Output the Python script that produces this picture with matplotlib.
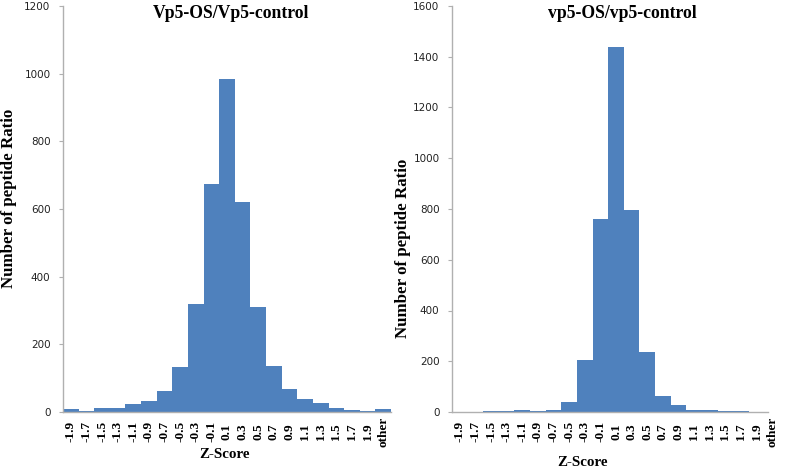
import matplotlib
matplotlib.use("Agg")
import matplotlib.pyplot as plt
import numpy as np

categories = ["-1.9", "-1.7", "-1.5", "-1.3", "-1.1", "-0.9", "-0.7", "-0.5", "-0.3", "-0.1",
              "0.1", "0.3", "0.5", "0.7", "0.9", "1.1", "1.3", "1.5", "1.7", "1.9", "other"]
left_values = [8, 4, 12, 13, 25, 33, 62, 133, 320, 673,
               985, 620, 310, 135, 68, 37, 28, 12, 7, 4, 10]
right_values = [0, 0, 2, 5, 7, 3, 9, 38, 203, 760,
                1440, 798, 238, 63, 26, 7, 8, 3, 2, 0, 0]
left_title = "Vp5-OS/Vp5-control"
right_title = "vp5-OS/vp5-control"
left_yticks = [0, 200, 400, 600, 800, 1000, 1200]
right_yticks = [0, 200, 400, 600, 800, 1000, 1200, 1400, 1600]

BAR = "#4F81BD"
AX = "#B0B0B0"
serif = ["Liberation Serif", "DejaVu Serif"]

fig = plt.figure(figsize=(7.87, 4.68), dpi=100)
W, H = 787, 468

def make_ax(x0, x1, y0, y1):
    return fig.add_axes([x0 / W, 1 - y1 / H, (x1 - x0) / W, (y1 - y0) / H])

ax1 = make_ax(63, 391, 6, 412)
ax2 = make_ax(452, 780, 6, 412)

def style(ax, values, yticks, title, xlim, spine_right, title_x, ylabel_xy, xlabel_xy):
    x = np.arange(len(categories))
    ax.bar(x, values, width=1.0, color=BAR, edgecolor="none")
    ax.set_xlim(*xlim)
    ax.set_ylim(0, yticks[-1])
    ax.set_yticks(yticks)
    ax.set_xticks(x)
    ax.set_xticklabels(categories, rotation=90, fontsize=9.5, family=serif, fontweight="bold")
    for lab in ax.get_xticklabels():
        lab.set_va("center")
    ax.tick_params(axis="x", length=0, pad=14)
    ax.tick_params(axis="y", length=3, color=AX, labelsize=7.5, pad=6, labelcolor="#222222")
    for s in ["top", "right"]:
        ax.spines[s].set_visible(False)
    for s in ["left", "bottom"]:
        ax.spines[s].set_color(AX)
        ax.spines[s].set_linewidth(1.0)
    ax.spines["bottom"].set_bounds(-0.5, spine_right)
    fig.text(title_x / W, 1 - 14 / H, title, ha="center", va="center",
             fontsize=12.7, fontweight="bold", family=serif)
    fig.text(ylabel_xy[0] / W, 1 - ylabel_xy[1] / H, "Number of peptide Ratio", rotation=90,
             ha="center", va="center", fontsize=12.2, fontweight="bold", family=serif)
    fig.text(xlabel_xy[0] / W, 1 - xlabel_xy[1] / H, "Z-Score", ha="center", va="center",
             fontsize=10.8, fontweight="bold", family=serif)

style(ax1, left_values, left_yticks, left_title, (-0.5, 20.5), 20.5, 231, (9, 198), (224, 455))
style(ax2, right_values, right_yticks, right_title, (-0.5, 20.5), 19.75, 622, (403, 248), (582, 463))

fig.savefig("out.png", dpi=100)
